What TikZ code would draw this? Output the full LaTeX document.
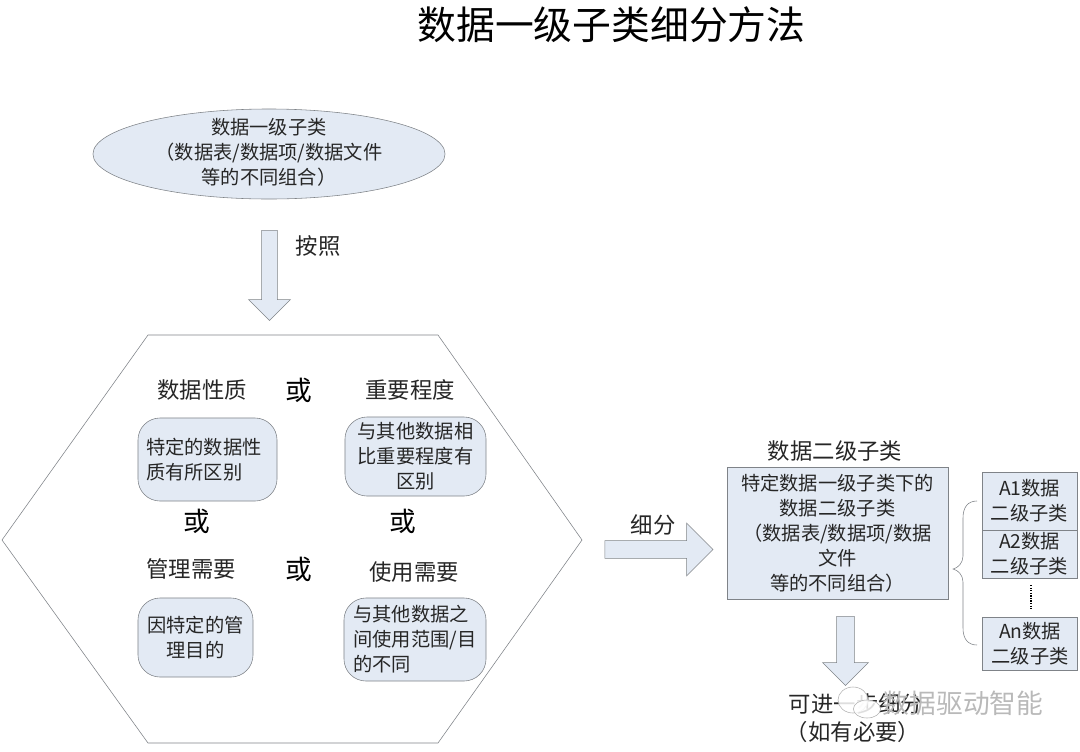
\documentclass[tikz,border=0pt]{standalone}
\usepackage{fontspec}
\setmainfont{Noto Sans CJK SC}
\usepackage{xcolor}
\usetikzlibrary{positioning, shapes.geometric, shapes.arrows}

\definecolor{boxfill}{HTML}{E3EAF4}
\definecolor{boxline}{HTML}{7F8388}
\definecolor{inktext}{HTML}{262626}

\newcommand{\bodyfont}{\fontsize{13.7}{17.7}\selectfont}
\newcommand{\headfont}{\fontsize{15.9}{19}\selectfont}

\begin{document}
\begin{tikzpicture}[
    x=0.025cm, y=-0.025cm,
    every node/.style={text=inktext, inner sep=0pt, align=center},
    subclass/.style={ellipse, draw=boxline, fill=boxfill, minimum width=8.8cm, minimum height=2.25cm, inner ysep=-3pt},
    softbox/.style={rectangle, rounded corners=0.55cm, draw=boxline, fill=boxfill, font=\bodyfont},
    plainbox/.style={rectangle, draw=boxline, fill=boxfill, font=\bodyfont},
    leafbox/.style={plainbox, minimum width=2.375cm},
    head/.style={font=\headfont},
    orword/.style={font=\fontsize{19}{19}\selectfont, text=black},
    bigarrow/.style={single arrow, draw=boxline, fill=boxfill, single arrow tip angle=90, single arrow head indent=0pt},
]
\useasboundingbox (0,0) rectangle (1080,751);

\node[font=\fontsize{27.6}{30}\selectfont, text=black] (title) at (611.5,25) {数据一级子类细分方法};

\node[subclass] (top) at (269,154) {};
\node[font=\bodyfont] (toptext) at (269,152) {数据一级子类\\（数据表/数据项/数据文件\\等的不同组合）};

\node[bigarrow, rotate=-90, inner ysep=0.19cm, single arrow head extend=0.325cm, minimum height=2.25cm] (arrowdown) at (269.5,271.5) {};
\node[head] (bylabel) at (318,246) {按照};

% hexagon round the four criteria
\draw[draw=boxline] (2,540) -- (148,335) -- (438,335) -- (582,540) -- (438,743) -- (148,743) -- cycle;

\node[head] (naturehead) at (202,390) {数据性质};
\node[orword] (ora) at (299,390) {或};
\node[head] (rankhead) at (410,390) {重要程度};
\node[softbox, align=left, minimum width=3.475cm, minimum height=2.075cm] (naturebox) at (207.5,459.5) {特定的数据性\hspace*{0.18cm}\\质有所区别};
\node[softbox, minimum width=3.525cm, minimum height=1.975cm] (rankbox) at (415.5,456.5) {与其他数据相\\比重要程度有\\区别};

\node[orword] (orb) at (197,521) {或};
\node[orword] (orc) at (403,521) {或};

\node[head] (managehead) at (191,569) {管理需要};
\node[orword] (ord) at (299,569) {或};
\node[head] (usehead) at (414,572) {使用需要};
\node[softbox, minimum width=2.875cm, minimum height=1.975cm] (managebox) at (195.5,637.5) {因特定的管\\理目的};
\node[softbox, align=left, minimum width=3.55cm, minimum height=2.075cm] (usebox) at (415,639.5) {与其他数据之\\间使用范围/目\hspace*{0.1cm}\\的不同};

\node[bigarrow, inner ysep=0.215cm, single arrow head extend=0.4375cm, minimum height=2.7cm] (arrowright) at (654.5,549.5) {};
\node[head] (splitlabel) at (653,525) {细分};

\node[head] (secondhead) at (835,451) {数据二级子类};
\node[plainbox, minimum width=5.525cm, minimum height=3.3cm] (second) at (837.5,533) {特定数据一级子类下的\\数据二级子类\\（数据表/数据项/数据\\文件\\等的不同组合）};

\node[leafbox, minimum height=1.45cm] (leafa) at (1029.5,501) {A1数据\\二级子类};
\node[leafbox, minimum height=1.2cm] (leafb) at (1029.5,554) {A2数据\\二级子类};
\node[leafbox, minimum height=1.325cm] (leafc) at (1030,643.5) {An数据\\二级子类};
\draw[densely dotted, thick, shorten >=0.175cm, shorten <=0.175cm] (leafb.south) ++(1.5,0) coordinate (dotstart) -- (dotstart |- leafc.north);

\coordinate (bracetop) at (977,501);
\coordinate (bracetip) at (953,569);
\coordinate (bracebot) at (977,645);
\draw[draw=boxline] (bracetop) .. controls (968,501) and (963,507) .. (963,518) -- (963,556)
    .. controls (963,563) and (958,568) .. (bracetip) .. controls (958,570) and (963,575) .. (963,582)
    -- (963,628) .. controls (963,639) and (968,645) .. (bracebot);

\node[bigarrow, rotate=-90, inner ysep=0.215cm, single arrow head extend=0.35cm, minimum height=1.725cm] (arrowmore) at (845.5,646.5) {};
\node[head] (morelabel) at (856,704) {可进一步细分};
\node[head] (needlabel) at (853,732) {（如有必要）};

% watermark over the last label
\node[ellipse, draw=gray!60, fill=white, fill opacity=0.85, minimum width=0.75cm, minimum height=0.65cm] (bubblea) at (853,700) {};
\node[ellipse, draw=gray!60, fill=white, fill opacity=0.85, minimum width=0.68cm, minimum height=0.45cm] (bubbleb) at (867,709) {};
\node[font=\fontsize{19}{19}\selectfont, text=gray!55] (mark) at (963,703) {数据驱动智能};

\end{tikzpicture}
\end{document}
